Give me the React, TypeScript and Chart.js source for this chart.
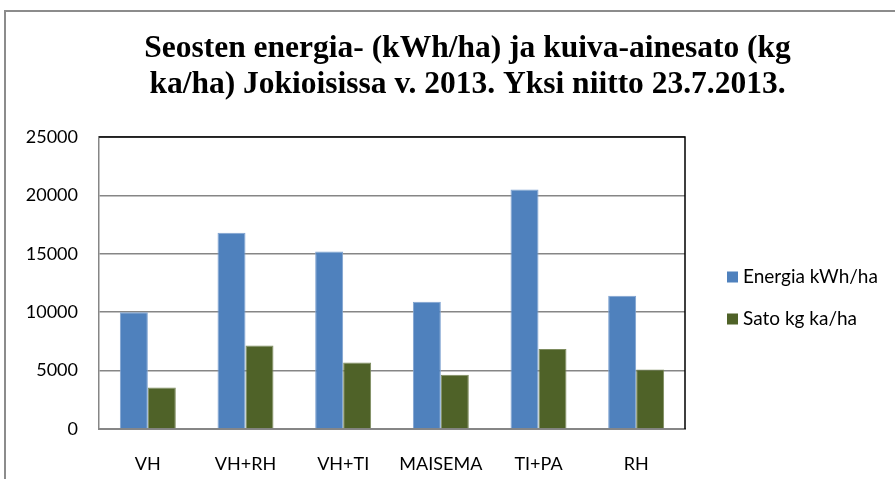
import React, { useEffect, useRef } from "react";
import { Chart, registerables } from "chart.js";

Chart.register(...registerables);

const categories = ["VH", "VH+RH", "VH+TI", "MAISEMA", "TI+PA", "RH"];
const energia = [10000, 16800, 15200, 10900, 20500, 11400];
const sato = [3550, 7150, 5700, 4650, 6850, 5100];
const seriesNames = ["Energia kWh/ha", "Sato kg ka/ha"];
const seriesColors = ["#4F81BD", "#4F6228"];
const seriesBorders = ["#7FA3D1", "#7E8C5E"];
const titleLines = [
  "Seosten energia- (kWh/ha) ja kuiva-ainesato (kg",
  "ka/ha) Jokioisissa v. 2013. Yksi niitto 23.7.2013.",
];
const yMin = 0;
const yMax = 25000;
const yStep = 5000;

const TICK_FONT = { family: "Lato", size: 18 };

const titlePlugin = {
  id: "customTitle",
  afterDraw(chart: any) {
    const ctx = chart.ctx;
    ctx.save();
    ctx.fillStyle = "#000";
    ctx.font = 'bold 31.5px "Liberation Serif"';
    ctx.textAlign = "center";
    ctx.textBaseline = "alphabetic";
    titleLines.forEach((line, i) => {
      ctx.fillText(line, 467.5, 57 + i * 36);
    });
    ctx.restore();
  },
};

const legendPlugin = {
  id: "customLegend",
  afterDraw(chart: any) {
    const ctx = chart.ctx;
    ctx.save();
    ctx.font = '19px "Lato"';
    ctx.textAlign = "left";
    ctx.textBaseline = "middle";
    chart.data.datasets.forEach((ds: any, i: number) => {
      const cy = 277 + i * 42;
      ctx.fillStyle = ds.backgroundColor;
      ctx.fillRect(727, cy - 5.5, 11, 11);
      ctx.fillStyle = "#000";
      ctx.fillText(ds.label, 743, cy);
    });
    ctx.restore();
  },
};

const borderPlugin = {
  id: "plotBorder",
  afterDraw(chart: any) {
    const { ctx, chartArea } = chart;
    ctx.save();
    ctx.strokeStyle = "#000";
    ctx.lineWidth = 1.5;
    ctx.beginPath();
    ctx.moveTo(chartArea.left, chartArea.top);
    ctx.lineTo(chartArea.right, chartArea.top);
    ctx.lineTo(chartArea.right, chartArea.bottom);
    ctx.stroke();
    ctx.restore();
  },
};

export default function App() {
  const canvasRef = useRef<HTMLCanvasElement | null>(null);

  useEffect(() => {
    document.body.style.margin = "0";
    const canvas = canvasRef.current;
    if (!canvas) return;
    const chart = new Chart(canvas, {
      type: "bar",
      data: {
        labels: categories,
        datasets: [
          {
            label: seriesNames[0],
            data: energia,
            backgroundColor: seriesColors[0],
            borderColor: seriesBorders[0],
            borderWidth: 1,
          },
          {
            label: seriesNames[1],
            data: sato,
            backgroundColor: seriesColors[1],
            borderColor: seriesBorders[1],
            borderWidth: 1,
          },
        ],
      },
      options: {
        responsive: false,
        animation: false,
        devicePixelRatio: 1,
        layout: { padding: { top: 137, right: 210, bottom: 0, left: 0 } },
        datasets: {
          bar: { categoryPercentage: 0.573, barPercentage: 1 },
        },
        plugins: {
          legend: { display: false },
          title: { display: false },
          tooltip: { enabled: false },
        },
        scales: {
          x: {
            grid: { display: false },
            border: { display: true, color: "#868686", width: 2 },
            ticks: { font: TICK_FONT, color: "#000", padding: 16, maxRotation: 0 },
            afterFit: (s: any) => {
              s.height = 50;
            },
          },
          y: {
            min: yMin,
            max: yMax,
            grid: { color: "#868686", lineWidth: 1.5, drawTicks: false },
            border: { display: true, color: "#868686", width: 1.5 },
            ticks: {
              stepSize: yStep,
              font: TICK_FONT,
              color: "#000",
              padding: 21,
              callback: (v: any) => String(v),
            },
            afterFit: (s: any) => {
              s.width = 99;
            },
          },
        },
      },
      plugins: [titlePlugin, legendPlugin, borderPlugin],
    });
    return () => chart.destroy();
  }, []);

  return (
    <div style={{ position: "relative", width: 895, height: 479, overflow: "hidden", background: "#fff" }}>
      <div
        style={{
          position: "absolute",
          left: 4,
          top: 10,
          width: 1000,
          height: 1000,
          border: "2px solid #8c8c8c",
          boxSizing: "border-box",
        }}
      />
      <canvas
        ref={canvasRef}
        width={895}
        height={479}
        style={{ position: "absolute", left: 0, top: 0, width: 895, height: 479 }}
      />
    </div>
  );
}
